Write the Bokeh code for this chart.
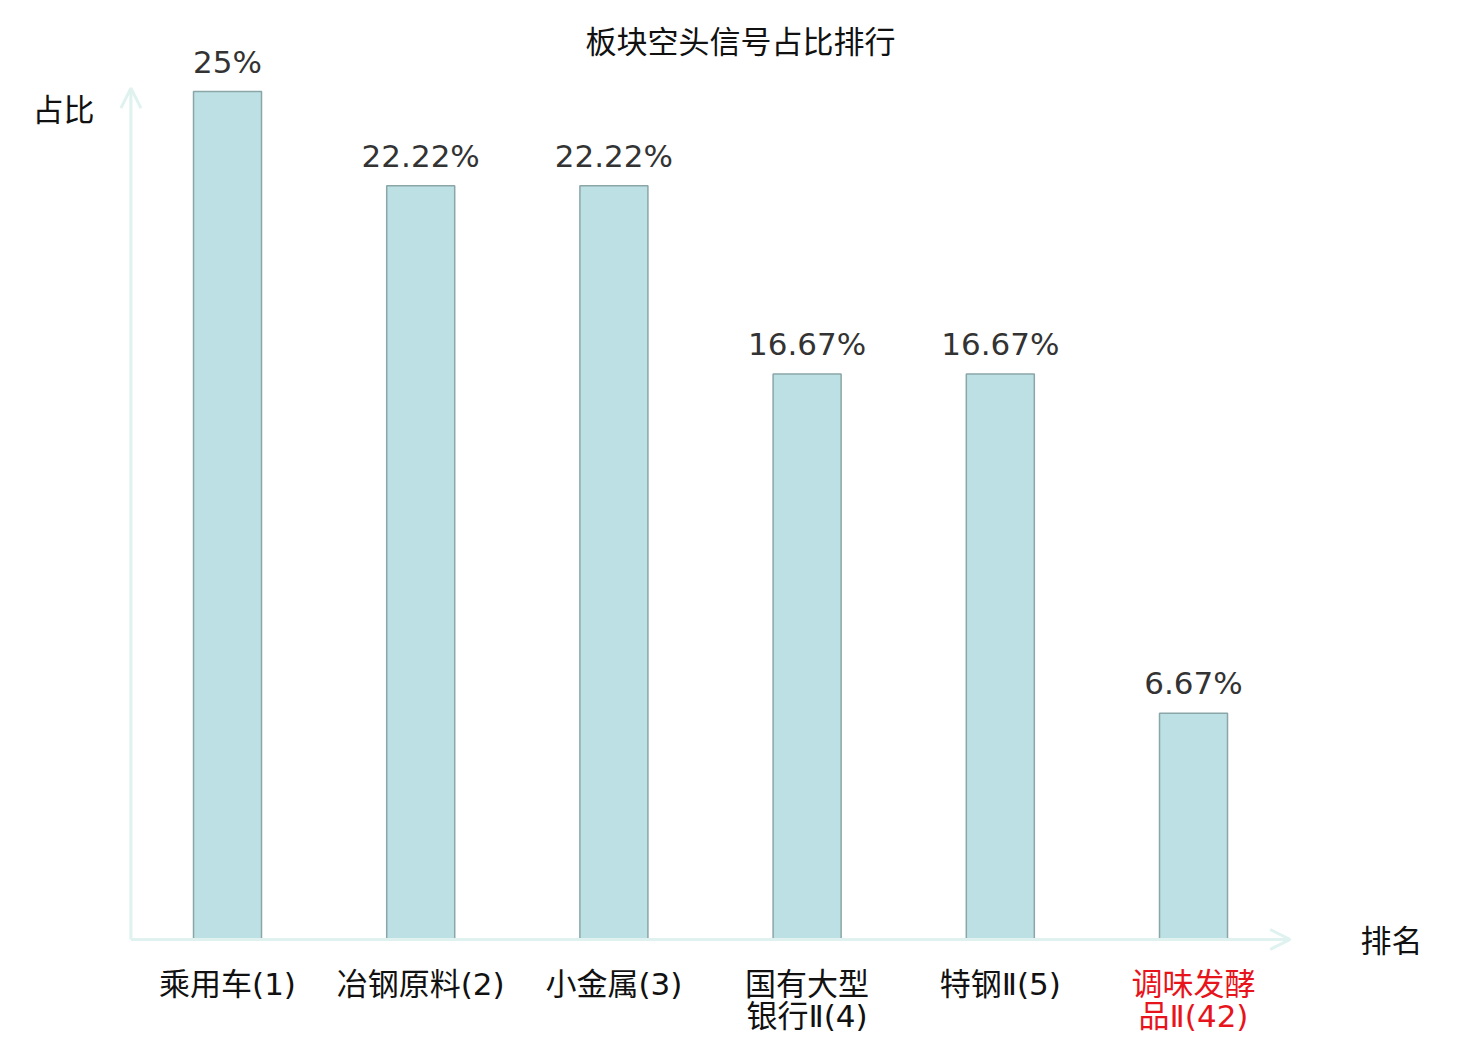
from bokeh.plotting import figure
from bokeh.models import Range1d, Arrow, OpenHead, Label, ColumnDataSource
from bokeh.core.properties import value
from bokeh.embed import file_html
from bokeh.resources import INLINE

# ---- data ----
title_text = "板块空头信号占比排行"
categories = ["乘用车(1)", "冶钢原料(2)", "小金属(3)", "国有大型\n银行Ⅱ(4)", "特钢Ⅱ(5)", "调味发酵\n品Ⅱ(42)"]
shares = [25.0, 22.22, 22.22, 16.67, 16.67, 6.67]
share_labels = ["25%", "22.22%", "22.22%", "16.67%", "16.67%", "6.67%"]
label_colors = ["#111111", "#111111", "#111111", "#111111", "#111111", "#e8141b"]
y_axis_name = "占比"
x_axis_name = "排名"

W, H = 1472, 1040
idx = list(range(len(categories)))
MIXED = "DejaVu Sans, Noto Sans CJK SC"

p = figure(width=W, height=H, output_backend="svg", toolbar_location=None,
           x_range=Range1d(-1.175, 6.444), y_range=Range1d(-2.978, 27.683),
           min_border=0, min_border_left=0, min_border_right=0,
           min_border_top=0, min_border_bottom=0)
p.axis.visible = False
p.grid.visible = False
p.outline_line_color = None
p.background_fill_color = "white"
p.border_fill_color = "white"

src = ColumnDataSource(dict(x=idx, top=shares, lab=share_labels,
                            cat=categories, col=label_colors,
                            base=[0] * len(idx)))

# axes drawn as arrows
axis_col = "#dff2ef"
n = len(categories)
ymax = max(shares)
p.add_layout(Arrow(end=OpenHead(size=20, line_color=axis_col, line_width=3),
                   x_start=-0.5, y_start=0, x_end=n - 0.5, y_end=0,
                   line_color=axis_col, line_width=3))
p.add_layout(Arrow(end=OpenHead(size=20, line_color=axis_col, line_width=3),
                   x_start=-0.5, y_start=0, x_end=-0.5, y_end=ymax + 0.1,
                   line_color=axis_col, line_width=3))

p.vbar(x="x", top="top", bottom=0, width=0.352, source=src,
       fill_color="#bce0e3", line_color="#8aa6a8", line_width=1.5)

p.text(x="x", y="top", text="lab", source=src, text_align="center",
       text_baseline="alphabetic", y_offset=-30, text_color="#333333",
       text_font=value("DejaVu Sans"), text_font_size="31px")

p.text(x="x", y="base", text="cat", source=src, text_align="center",
       text_baseline="top", y_offset=27, text_color="col",
       text_font=value(MIXED), text_font_size="31px",
       text_line_height=0.87)

p.add_layout(Label(x=740, y=H - 39, x_units="screen", y_units="screen",
                   text=title_text, text_align="center", text_baseline="middle",
                   text_font="Noto Sans CJK SC", text_font_size="31px",
                   text_color="#111111"))
p.add_layout(Label(x=63, y=H - 107, x_units="screen", y_units="screen",
                   text=y_axis_name, text_align="center", text_baseline="middle",
                   text_font="Noto Sans CJK SC", text_font_size="31px",
                   text_color="#111111"))
p.add_layout(Label(x=1391, y=H - 938, x_units="screen", y_units="screen",
                   text=x_axis_name, text_align="center", text_baseline="middle",
                   text_font="Noto Sans CJK SC", text_font_size="31px",
                   text_color="#111111"))

open("out.html", "w").write(file_html(p, INLINE))
